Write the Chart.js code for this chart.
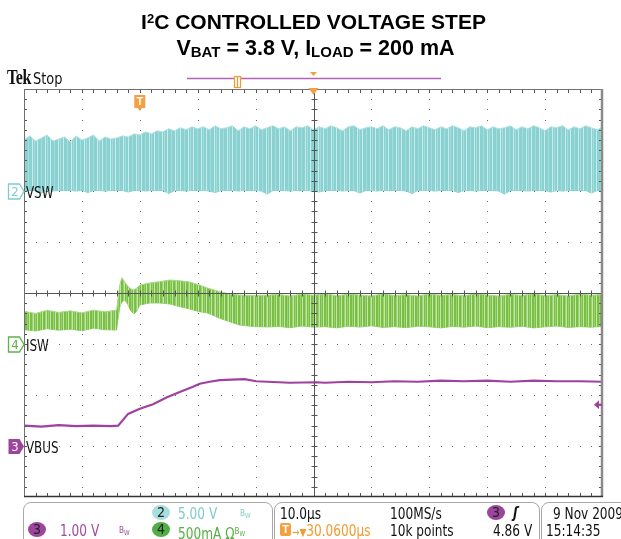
<!DOCTYPE html>
<html><head><meta charset="utf-8">
<script src="https://cdn.jsdelivr.net/npm/chart.js@4.4.1/dist/chart.umd.min.js"></script>
<style>
html,body{margin:0;padding:0;background:#fff;}
#wrap{position:relative;width:621px;height:539px;overflow:hidden;background:#fff;}
#c{position:absolute;left:0;top:0;}
.t{position:absolute;white-space:nowrap;}
.title{width:621px;text-align:center;font-family:"Liberation Sans",Arial,sans-serif;font-weight:bold;font-size:21px;line-height:24px;color:#000;}
.title sup{font-size:13px;vertical-align:6px;line-height:0;}
.title sub{font-size:15px;vertical-align:-2px;line-height:0;}
.s{font-family:"Liberation Sans Narrow","DejaVu Sans Condensed",sans-serif;font-stretch:condensed;font-size:15px;line-height:18px;color:#111;transform:scaleX(0.9);transform-origin:left top;}
.circ{position:absolute;width:18px;height:15px;border-radius:50%;text-align:center;font-family:"Liberation Sans Narrow","DejaVu Sans Condensed",sans-serif;font-size:14px;line-height:15px;color:#222;}
.panel{position:absolute;top:502px;height:60px;border:1px solid #a8a8a8;border-radius:8px;}
.bw{font-size:9px;vertical-align:5px;}
.bw sub{font-size:7px;vertical-align:-2px;}
</style></head>
<body>
<div id="wrap">
<canvas id="c" width="621" height="539"></canvas>
<div class="t title" style="left:3px;top:10px">I<sup>2</sup>C CONTROLLED VOLTAGE STEP</div>
<div class="t title" style="left:5px;top:36px;font-size:21.5px">V<sub>BAT</sub> = 3.8 V, I<sub>LOAD</sub> = 200 mA</div>
<div class="t" style="left:7px;top:67px;font-family:'Liberation Serif',serif;font-weight:bold;font-size:20px;line-height:20px;transform:scaleX(0.8);transform-origin:left top;color:#111;letter-spacing:-0.5px">Tek</div>
<div class="t s" style="left:33px;top:69px;font-size:16px;line-height:20px">Stop</div>

<div class="panel" style="left:23px;width:248px"></div>
<div class="panel" style="left:274px;width:264px"></div>
<div class="panel" style="left:541px;width:100px"></div>

<div class="circ" style="left:152px;top:505px;background:#a9dede">2</div>
<div class="t s" style="left:178px;top:505px;color:#7fcccc">5.00 V</div>
<div class="t s" style="left:240px;top:504px;color:#7fcccc"><span class="bw">B<sub>W</sub></span></div>
<div class="circ" style="left:28px;top:522px;background:#9d449d">3</div>
<div class="t s" style="left:60px;top:522px;color:#a04aa0">1.00 V</div>
<div class="t s" style="left:119px;top:521px;color:#a04aa0"><span class="bw">B<sub>W</sub></span></div>
<div class="circ" style="left:152px;top:522px;background:#4fae45">4</div>
<div class="t s" style="left:178px;top:522px;color:#55b043">500mA Ω<span class="bw">B<sub>W</sub></span></div>

<div class="t s" style="left:280px;top:505px">10.0µs</div>
<div class="t s" style="left:390px;top:505px">100MS/s</div>
<div class="circ" style="left:487px;top:505px;background:#9d449d">3</div>
<div class="t s" style="left:513px;top:504px;font-weight:bold;font-style:italic">ʃ</div>
<div class="t" style="left:280px;top:523px;width:11px;height:13px;background:#f5a040;border-radius:2px;color:#fff;font:bold 11px 'Liberation Sans',sans-serif;line-height:13px;text-align:center">T</div>
<div class="t s" style="left:292px;top:522px;color:#f29b30"><span style="font-size:11px">→▼</span>30.0600µs</div>
<div class="t s" style="left:390px;top:522px">10k points</div>
<div class="t s" style="left:493px;top:522px">4.86 V</div>
<div class="t s" style="left:553px;top:505px">9 Nov 2009</div>
<div class="t s" style="left:546px;top:522px">15:14:35</div>
</div>
<script>
// ---- time axis (µs), 10 µs/div, trigger at t = 0 ----
const xGrid = [-20,-10,0,10,20,30,40,50,60,70,80];
const yGrid = [-4,-3,-2,-1,0,1,2,3,4];

// ---- VSW (ch2, volts) envelope of switching waveform ----
const tVsw = [-20,-19,-18,-17,-16,-15,-14,-13,-12,-11,-10,-9,-8,-7,-6,-5,-4,-3,-2,-1,0,1,2,3,4,5,6,7,8,9,10,11,12,13,14,15,16,17,18,19,20,21,22,23,24,25,26,27,28,29,30,31,32,33,34,35,36,37,38,39,40,41,42,43,44,45,46,47,48,49,50,51,52,53,54,55,56,57,58,59,60,61,62,63,64,65,66,67,68,69,70,71,72,73,74,75,76,77,78,79,80];
const vswHigh = [5.0,5.4,4.9,5.2,5.5,4.9,5.1,5.3,4.8,5.4,5.0,5.2,5.5,4.9,5.3,5.1,
 5.2,5.4,5.3,5.6,5.5,5.8,5.6,5.9,5.8,6.1,5.9,6.2,6.0,6.3,6.1,
 6.3,6.0,6.4,6.1,6.2,6.4,5.9,6.3,6.1,6.4,
 6.0,6.2,6.4,6.1,6.3,5.9,6.3,6.2,6.4,6.0,
 6.3,6.1,6.4,6.2,5.9,6.3,6.4,6.0,6.2,6.3,
 6.1,6.4,6.0,6.3,6.2,5.9,6.3,6.1,6.4,6.2,
 6.0,6.3,6.1,6.4,6.2,5.9,6.3,6.2,6.4,6.0,
 6.3,6.1,6.2,6.4,6.0,6.3,6.1,6.4,6.2,5.9,
 6.3,6.2,6.4,6.0,6.3,6.1,6.4,6.2,6.0,6.3];
const vswLow = [0.05,0.05,0.05,-0.2,0.05,0.0,0.05,0.05,0.05,0.0,
 0.05,-0.15,0.05,0.05,0.0,0.05,0.05,0.05,-0.1,0.05,
 0.05,0.0,0.05,0.05,0.05,-0.25,0.05,0.05,0.0,0.05,
 0.05,0.05,0.0,-0.15,0.05,0.05,0.05,0.0,0.05,0.05,
 0.05,0.0,-0.3,0.05,0.05,0.05,0.0,0.05,0.05,0.05,
 0.0,-0.1,0.05,0.05,0.05,0.0,0.05,0.05,-0.2,0.05,
 0.05,0.0,0.05,0.05,0.05,0.05,0.0,-0.25,0.05,0.05,
 0.05,0.0,0.05,0.05,0.05,-0.15,0.05,0.05,0.0,0.05,
 0.05,0.05,0.0,-0.3,0.05,0.05,0.05,0.0,0.05,0.05,
 0.05,-0.1,0.05,0.0,0.05,0.05,0.05,0.05,-0.2,0.05,
 0.05];

// ---- ISW (ch4, mA) envelope ----
const tIsw = [-20,-18,-16,-14,-12,-10,-8,-6,-4,-3.8,-3.45,-3.1,-2.6,-2.1,-1.55,-1,-0.5,0,1.7,3.4,5.2,6.9,8.6,10.3,11.7,13.8,15.5,17.2,19.8,22.4,
 24,26,28,30,32,34,36,38,40,42,44,46,48,50,52,54,56,58,60,62,64,66,68,70,72,74,76,78,80];
const iswHigh = [320,300,330,310,325,305,332,315,333,431,578,650,608,569,539,529,549,578,598,611,627,620,608,578,549,513,490,480,475,480,
 485,470,490,478,495,472,488,480,470,492,476,484,470,490,478,486,472,494,480,470,488,476,492,474,484,470,490,478,486];
const iswLow = [140,128,150,135,145,130,155,140,137,235,363,412,431,392,324,294,324,382,402,402,392,366,343,317,304,252,219,186,170,167,
 172,160,176,165,170,158,174,166,178,162,170,160,175,168,158,172,165,176,160,170,163,174,158,168,176,162,170,165,172];

// ---- VBUS (ch3, volts) ----
const tVbus = [-20,-17,-14,-11,-8,-5,-3.74,-2.02,0,2.29,4.6,6.9,9.19,10.34,12.07,13.8,18.1,20.1,25.9,30.5,32,36,40,44,48,52,56,60,64,68,72,76,80];
const vbus = [4.45,4.43,4.46,4.44,4.45,4.44,4.45,4.68,4.78,4.87,5.0,5.11,5.21,5.27,5.31,5.34,5.36,5.32,5.29,5.30,5.29,5.31,5.30,5.32,5.31,5.33,5.32,5.33,5.31,5.33,5.32,5.32,5.31];
const trigLevel = 4.86;

// channel settings (scale per div, screen position in div, offset)
const CH2 = {scale:5, pos:2, off:0};
const CH4 = {scale:500, pos:-1, off:0};
const CH3 = {scale:1, pos:-3, off:4.05};
const toDiv = (v, ch) => (v - ch.off) / ch.scale + ch.pos;
const pts = (ts, vs, ch) => ts.map((t, i) => ({x:t, y:toDiv(vs[i], ch)}));

function stripe(colors){
  const c = document.createElement('canvas');
  c.width = colors.length; c.height = 1;
  const g = c.getContext('2d');
  colors.forEach((col,i)=>{ g.fillStyle = col; g.fillRect(i,0,1,1); });
  return g.createPattern(c,'repeat');
}
const C1='#8ad1d1', C2='#a6dcdc', C3='#c9ecec';
const cyanPat = stripe([C1,C1,C2,C1,C1,C1,C3,C1,C2,C1,C1,C3,C1]);
const G1='#78bf42', G2='#9bd175', G3='#c4e6ab';
const greenPat = stripe([G1,G2,G1,G3,G1,G1,G2,G3,G1,G2,G1,G3,G1]);

const NARROW = '"Liberation Sans Narrow","DejaVu Sans Condensed",sans-serif';

const scopePlugin = {
  id: 'scope',
  beforeDatasetsDraw(chart){
    const ctx = chart.ctx, xs = chart.scales.x, ys = chart.scales.y;
    ctx.save();
    ctx.fillStyle = '#6a6a6a';
    xGrid.slice(1,-1).forEach(xv => {
      if (xv === 30) return;
      const px = Math.round(xs.getPixelForValue(xv));
      for (let k = 1; k < 40; k++) {
        const py = Math.round(ys.getPixelForValue(-4 + k*0.2));
        ctx.fillRect(px, py, 1, 1);
      }
    });
    yGrid.slice(1,-1).forEach(yv => {
      if (yv === 0) return;
      const py = Math.round(ys.getPixelForValue(yv));
      for (let k = 1; k < 50; k++) {
        const px = Math.round(xs.getPixelForValue(-20 + k*2));
        ctx.fillRect(px, py, 1, 1);
      }
    });
    ctx.restore();
  },
  afterDatasetsDraw(chart){
    const ctx = chart.ctx, xs = chart.scales.x, ys = chart.scales.y;
    const a = chart.chartArea;
    ctx.save();
    const cx = Math.round(xs.getPixelForValue(30)) + 0.5;
    const cy = Math.round(ys.getPixelForValue(0)) + 0.5;
    ctx.strokeStyle = '#555'; ctx.lineWidth = 1;
    ctx.beginPath();
    ctx.moveTo(cx, a.top); ctx.lineTo(cx, a.bottom);
    ctx.moveTo(a.left, cy); ctx.lineTo(a.right, cy);
    for (let k = 1; k < 40; k++) {
      const py = Math.round(ys.getPixelForValue(-4 + k*0.2)) + 0.5;
      ctx.moveTo(cx-3, py); ctx.lineTo(cx+3, py);
      ctx.moveTo(a.left, py); ctx.lineTo(a.left+3, py);
      ctx.moveTo(a.right-4, py); ctx.lineTo(a.right, py);
    }
    for (let k = 1; k < 50; k++) {
      const px = Math.round(xs.getPixelForValue(-20 + k*2)) + 0.5;
      ctx.moveTo(px, cy-3); ctx.lineTo(px, cy+3);
      ctx.moveTo(px, a.top); ctx.lineTo(px, a.top+4);
      ctx.moveTo(px, a.bottom-4); ctx.lineTo(px, a.bottom);
    }
    ctx.stroke();
    ctx.strokeStyle = '#707070'; ctx.lineWidth = 1;
    ctx.strokeRect(a.left+0.5, a.top+0.5, a.right-a.left-1, a.bottom-a.top-1);
    ctx.strokeStyle = '#8a8a8a'; ctx.lineWidth = 2.5;
    ctx.beginPath(); ctx.moveTo(a.right-1, a.top); ctx.lineTo(a.right-1, a.bottom); ctx.stroke();
    ctx.strokeStyle = '#333'; ctx.lineWidth = 1.5;
    ctx.beginPath(); ctx.moveTo(a.left, a.bottom-0.5); ctx.lineTo(a.right, a.bottom-0.5); ctx.stroke();

    const marker = (ch, num, label, col, filled) => {
      const y = Math.round(ys.getPixelForValue(ch.pos)) + 0.5;
      ctx.beginPath();
      ctx.moveTo(8.5, y-7.5); ctx.lineTo(19.5, y-7.5); ctx.lineTo(24, y);
      ctx.lineTo(19.5, y+7.5); ctx.lineTo(8.5, y+7.5); ctx.closePath();
      if (filled) { ctx.fillStyle = col; ctx.fill(); }
      else { ctx.fillStyle = '#fff'; ctx.fill(); ctx.strokeStyle = col; ctx.lineWidth = 1.3; ctx.stroke(); }
      ctx.fillStyle = filled ? '#fff' : col;
      ctx.font = '13px ' + NARROW;
      ctx.textAlign = 'center'; ctx.textBaseline = 'middle';
      ctx.fillText(num, 15, y+1);
      ctx.fillStyle = '#111';
      ctx.font = '15px ' + NARROW;
      ctx.textAlign = 'left'; ctx.textBaseline = 'alphabetic';
      ctx.save(); ctx.translate(26, y+6); ctx.scale(0.88, 1);
      ctx.fillText(label, 0, 0);
      ctx.restore();
    };
    marker(CH2, '2', 'VSW', '#7fcccc', false);
    marker(CH4, '4', 'ISW', '#5cb445', false);
    marker(CH3, '3', 'VBUS', '#9d449d', true);

    const ty = ys.getPixelForValue(toDiv(trigLevel, CH3));
    ctx.fillStyle = '#9d449d';
    ctx.beginPath(); ctx.moveTo(594, ty); ctx.lineTo(599, ty-4.5); ctx.lineTo(599, ty+4.5); ctx.closePath(); ctx.fill();
    ctx.fillRect(598, ty-1, 4, 2);

    const tx = xs.getPixelForValue(0);
    ctx.fillStyle = '#f5a040';
    ctx.beginPath();
    ctx.moveTo(tx-5.5, a.top+6); ctx.lineTo(tx+5.5, a.top+6); ctx.lineTo(tx+5.5, a.top+19);
    ctx.lineTo(tx+2, a.top+19); ctx.lineTo(tx, a.top+22); ctx.lineTo(tx-2, a.top+19); ctx.lineTo(tx-5.5, a.top+19);
    ctx.closePath(); ctx.fill();
    ctx.fillStyle = '#fff'; ctx.font = 'bold 11px "Liberation Sans",sans-serif';
    ctx.textAlign = 'center'; ctx.textBaseline = 'middle';
    ctx.fillText('T', tx, a.top+13);

    const mx = xs.getPixelForValue(30);
    ctx.fillStyle = '#f5a040';
    ctx.beginPath(); ctx.moveTo(mx-5, a.top-1); ctx.lineTo(mx+5, a.top-1); ctx.lineTo(mx, a.top+6); ctx.closePath(); ctx.fill();
    ctx.restore();
  },
  afterDraw(chart){
    const ctx = chart.ctx, xs = chart.scales.x;
    const mx = xs.getPixelForValue(30);
    ctx.save();
    ctx.strokeStyle = '#b462b4'; ctx.lineWidth = 1.5;
    ctx.beginPath(); ctx.moveTo(187, 78.5); ctx.lineTo(441, 78.5); ctx.stroke();
    ctx.fillStyle = '#f5a040';
    ctx.beginPath(); ctx.moveTo(mx-3.5, 72); ctx.lineTo(mx+3.5, 72); ctx.lineTo(mx, 76); ctx.closePath(); ctx.fill();
    ctx.fillStyle = '#fff'; ctx.fillRect(234, 76, 6, 12);
    ctx.strokeStyle = '#f29b30'; ctx.lineWidth = 1.2;
    ctx.strokeRect(234.5, 76.5, 6, 11);
    ctx.beginPath(); ctx.moveTo(237.5, 77); ctx.lineTo(237.5, 87); ctx.stroke();
    ctx.restore();
  }
};

new Chart(document.getElementById('c'), {
  type: 'line',
  data: {
    datasets: [
      {label:'VBUS', data: pts(tVbus, vbus, CH3), borderColor:'#a040a0', borderWidth:2.2, pointRadius:0, fill:false, order:0},
      {label:'VSW high', data: pts(tVsw, vswHigh, CH2), borderColor:'#b2e0e0', borderWidth:1, pointRadius:0, fill:'+1', backgroundColor: cyanPat, order:2},
      {label:'VSW low', data: pts(tVsw, vswLow, CH2), borderColor:'#86d0d0', borderWidth:1, pointRadius:0, fill:false, order:2},
      {label:'ISW high', data: pts(tIsw, iswHigh, CH4), borderColor:'#a8d886', borderWidth:1, pointRadius:0, fill:'+1', backgroundColor: greenPat, order:1},
      {label:'ISW low', data: pts(tIsw, iswLow, CH4), borderColor:'#9ccf78', borderWidth:1, pointRadius:0, fill:false, order:1}
    ]
  },
  options: {
    responsive:false, animation:false, events:[],
    layout:{padding:{left:24, right:18, top:89, bottom:42}},
    elements:{line:{tension:0}},
    plugins:{legend:{display:false}, tooltip:{enabled:false}, title:{display:false}},
    scales:{
      x:{type:'linear', min:-20, max:80, display:false},
      y:{type:'linear', min:-4, max:4, display:false}
    }
  },
  plugins:[scopePlugin]
});
</script>
</body></html>
